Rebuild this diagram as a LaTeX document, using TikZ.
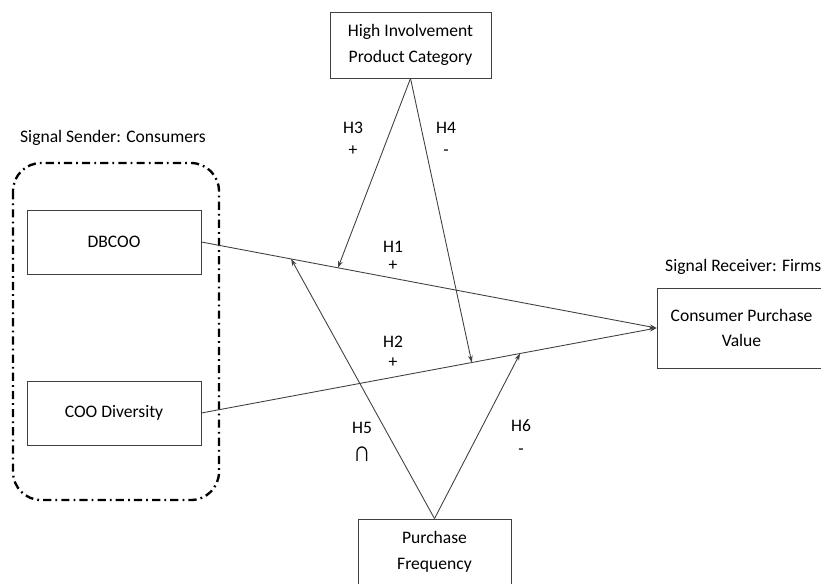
\documentclass[tikz,border=0pt]{standalone}
\usepackage{fontspec}
\setmainfont{Carlito}
\usetikzlibrary{arrows.meta,calc,positioning}

\begin{document}
\begin{tikzpicture}[x=0.03cm,y=-0.03cm,
  every node/.style={font=\fontsize{15}{22}\selectfont},
  box/.style={draw=black!75,line width=0.7pt,align=center,inner sep=0pt},
  link/.style={draw=black!75,line width=0.75pt,-{Stealth[length=6pt,width=4pt]}},
  lbl/.style={inner sep=0pt,align=center}]
 \useasboundingbox (0,0) rectangle (821,583);
 \clip (0,0) rectangle (821,583);

 \draw[line width=2pt,rounded corners=24pt,dash pattern=on 7pt off 3.5pt on 1.5pt off 3.5pt] (13,163) rectangle (219,500);
 \node[lbl] (sender) at (113,138) {Signal Sender: Consumers};
 \node[lbl,anchor=west] (receiver) at (665,267) {Signal Receiver: Firms};

 \node[box,minimum width=5.22cm,minimum height=1.92cm] (dbcoo) at (114,242) {DBCOO};
 \node[box,minimum width=5.22cm,minimum height=1.92cm] (div) at (114,413) {COO Diversity};
 \node[box,minimum width=4.83cm,minimum height=1.98cm] (hipc) at (410.5,45) {High Involvement\\Product Category};
 \node[box,minimum width=4.59cm,minimum height=1.98cm] (pf) at (434.5,552) {Purchase\\Frequency};
 \node[box,minimum width=5.07cm,minimum height=2.4cm] (cpv) at (741.5,328) {Consumer Purchase\\Value};

 \coordinate (m3) at ($(dbcoo.east)!0.3!(cpv.west)$);
 \coordinate (m5) at ($(dbcoo.east)!0.197!(cpv.west)$);
 \coordinate (m4) at ($(div.east)!0.594!(cpv.west)$);
 \coordinate (m6) at ($(div.east)!0.70!(cpv.west)$);

 \draw[link] (dbcoo.east) -- (cpv.west);
 \draw[link] (div.east) -- (cpv.west);
 \draw[link] (hipc.south) -- (m3);
 \draw[link] (hipc.south) -- (m4);
 \draw[link] (pf.north) -- (m5);
 \draw[link] (pf.north) -- (m6);

 \node[lbl] (h1) at (393,256) {H1\\[-7pt]+};
 \node[lbl] (h2) at (393,352) {H2\\[-5pt]+};
 \node[lbl] (h3) at (353,139) {H3\\[-3pt]+};
 \node[lbl] (h4) at (446,139) {H4\\[-3pt]-};
 \node[lbl] (h5) at (362,442) {H5\\[2pt]\scalebox{1.35}[1.6]{∩}};
 \node[lbl] (h6) at (521,437) {H6\\[-2pt]-};
\end{tikzpicture}
\end{document}
